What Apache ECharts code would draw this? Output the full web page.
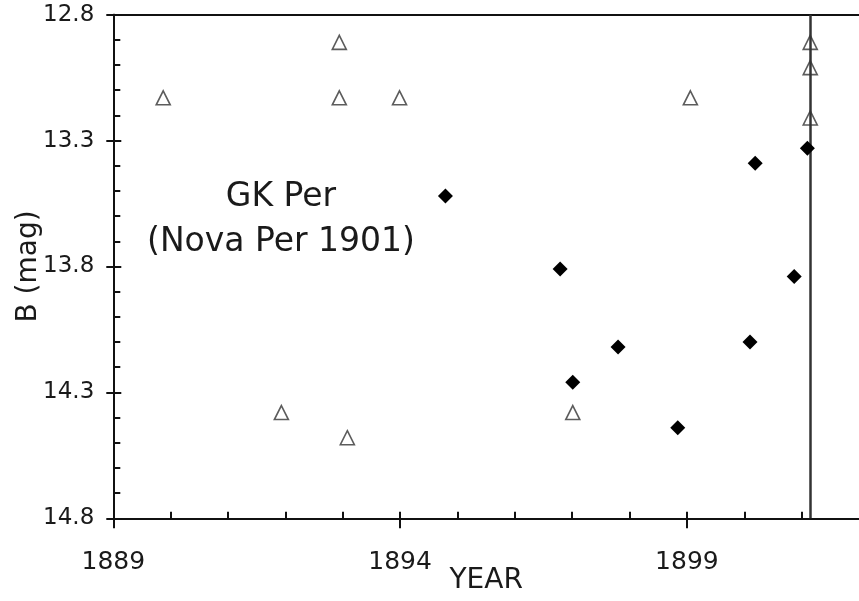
<!DOCTYPE html>
<html>
<head>
<meta charset="utf-8">
<script src="https://cdn.jsdelivr.net/npm/echarts@6/dist/echarts.min.js"></script>
<style>
html,body{margin:0;padding:0;background:#fff;}
#chart{width:859px;height:601px;}
</style>
</head>
<body>
<div id="chart"></div>
<script>
// Open triangles (upper limits / plates with no detection)
const triX = [1889.87, 1891.93, 1892.94, 1892.94, 1893.08, 1893.99, 1897.01, 1899.06, 1901.15, 1901.15, 1901.15];
const triY = [13.13, 14.38, 12.91, 13.13, 14.48, 13.13, 14.38, 13.13, 12.91, 13.01, 13.21];
// Filled diamonds (measurements)
const diaX = [1894.79, 1896.79, 1897.01, 1897.80, 1898.84, 1900.10, 1900.19, 1900.87, 1901.10];
const diaY = [13.52, 13.81, 14.26, 14.12, 14.44, 14.10, 13.39, 13.84, 13.33];
// Nova eruption epoch
const novaYear = 1901.15;
// Axis tick labels
const xTicks = [1889, 1894, 1899];
const yTicks = [12.8, 13.3, 13.8, 14.3, 14.8];

const FONT = 'DejaVu Sans';
const tri = triX.map((x, i) => [x, triY[i]]);
const dia = diaX.map((x, i) => [x, diaY[i]]);

const chart = echarts.init(document.getElementById('chart'), null, {renderer: 'canvas'});
const lineStyle = {color: '#111', width: 2};
const xBase = {
  type: 'value', min: 1889, max: 1902,
  axisLine: {show: true, lineStyle: lineStyle},
  splitLine: {show: false}
};
const yBase = {
  type: 'value', inverse: true, min: 12.8, max: 14.8, interval: 0.5,
  axisLine: {show: true, lineStyle: lineStyle},
  splitLine: {show: false}
};
chart.setOption({
  animation: false,
  backgroundColor: '#fff',
  grid: {left: 113.3, top: 14.7, bottom: 82.7, right: 0, containLabel: false, outerBoundsMode: 'none'},
  xAxis: [
    Object.assign({}, xBase, {
      position: 'bottom', interval: 1,
      name: 'YEAR', nameLocation: 'middle', nameGap: 48, nameMoveOverlap: false,
      nameTextStyle: {fontFamily: FONT, fontSize: 28, color: '#1a1a1a'},
      axisTick: {show: true, inside: true, length: 6.5, lineStyle: lineStyle},
      axisLabel: {
        margin: 32, fontFamily: FONT, fontSize: 25, color: '#1a1a1a',
        showMaxLabel: false,
        formatter: v => (xTicks.indexOf(v) >= 0 ? String(v) : '')
      }
    }),
    Object.assign({}, xBase, {
      position: 'bottom', gridIndex: 0, interval: 5,
      axisTick: {show: true, inside: false, length: 10, lineStyle: lineStyle, customValues: xTicks},
      axisLabel: {show: false}
    }),
    Object.assign({}, xBase, {
      position: 'top', gridIndex: 0, interval: 5,
      axisTick: {show: false},
      axisLabel: {show: false}
    })
  ],
  yAxis: [
    Object.assign({}, yBase, {
      position: 'left',
      name: 'B (mag)', nameLocation: 'middle', nameGap: 71, nameMoveOverlap: false,
      nameTextStyle: {fontFamily: FONT, fontSize: 28, color: '#1a1a1a'},
      axisTick: {show: true, inside: true, length: 8, lineStyle: lineStyle},
      minorTick: {show: true, splitNumber: 5, length: 7, lineStyle: lineStyle},
      axisLabel: {
        margin: 19, fontFamily: FONT, fontSize: 23, color: '#1a1a1a',
        formatter: v => v.toFixed(1)
      }
    }),
    Object.assign({}, yBase, {
      position: 'left', gridIndex: 0,
      axisTick: {show: true, inside: false, length: 7, lineStyle: lineStyle},
      minorTick: {show: false},
      axisLabel: {show: false}
    })
  ],
  graphic: [{
    type: 'text',
    x: 281, y: 175,
    style: {
      text: 'GK Per\n(Nova Per 1901)',
      fontFamily: FONT, fontSize: 33, lineHeight: 45,
      fill: '#1a1a1a', align: 'center', verticalAlign: 'top'
    },
    z: 10
  }],
  series: [
    {
      type: 'scatter', name: 'limits', data: tri, xAxisIndex: 0, yAxisIndex: 0,
      symbol: 'triangle', symbolSize: 14,
      itemStyle: {color: 'rgba(0,0,0,0)', borderColor: '#333', borderWidth: 1.6},
      z: 3,
      markLine: {
        silent: true, symbol: 'none', label: {show: false},
        lineStyle: {color: '#333', width: 2.5, type: 'solid'},
        data: [{xAxis: novaYear}],
        z: 2
      }
    },
    {
      type: 'scatter', name: 'detections', data: dia, xAxisIndex: 0, yAxisIndex: 0,
      symbol: 'diamond', symbolSize: 15,
      itemStyle: {color: '#000', opacity: 1},
      z: 4
    }
  ]
});
</script>
</body>
</html>
